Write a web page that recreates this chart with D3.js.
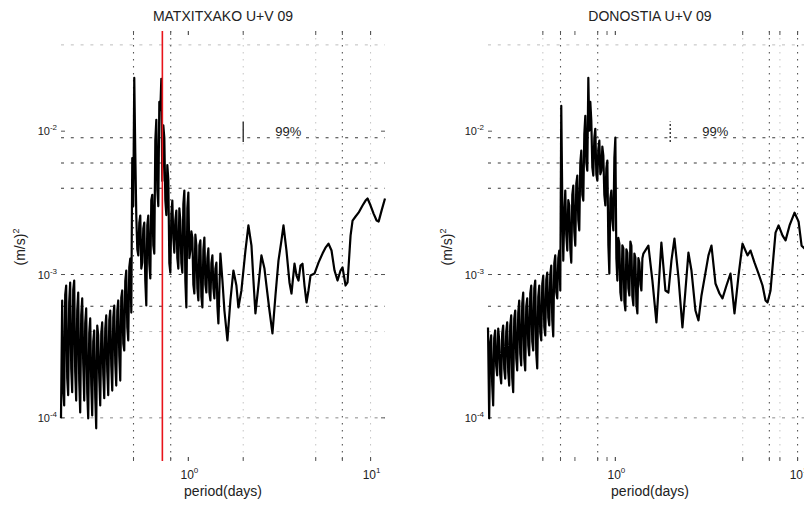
<!DOCTYPE html>
<html>
<head>
<meta charset="utf-8">
<script src="https://cdn.jsdelivr.net/npm/d3@7"></script>
<style>
  body { margin: 0; background: #fff; }
  svg { display: block; }
  text { font-family: "Liberation Sans", Arial, Helvetica, sans-serif; fill: #222; }
</style>
</head>
<body>
<svg id="chart" width="804" height="506"></svg>
<script>
// Power spectra of U+V currents, 2009: [period (days), power ((m/s)^2)]
const matxitxako = [
  [0.2,9.92e-5],[0.203,6.59e-4],[0.2056,1.6e-4],[0.2082,1.22e-4],[0.2109,7.2e-4],[0.2135,8.38e-4],
  [0.2163,1.9e-4],[0.219,1.44e-4],[0.2218,6.4e-4],[0.2246,8.80e-4],[0.2276,2.2e-4],[0.2304,1.51e-4],
  [0.2334,7.8e-4],[0.2363,9.08e-4],[0.2393,2.1e-4],[0.2423,1.32e-4],[0.2455,5.6e-4],[0.2486,7.49e-4],
  [0.2518,1.8e-4],[0.2549,1.09e-4],[0.2582,5.2e-4],[0.2615,6.81e-4],[0.2648,2.4e-4],[0.2682,1.32e-4],
  [0.2716,4.6e-4],[0.275,5.80e-4],[0.2786,1.5e-4],[0.2821,9.92e-5],[0.2858,3.9e-4],[0.2893,4.94e-4],
  [0.2931,1.7e-4],[0.2967,1.04e-4],[0.3006,3.4e-4],[0.3043,4.07e-4],[0.3083,1.4e-4],[0.3121,8.45e-5],
  [0.3162,4.4e-4],[0.3201,3.76e-4],[0.3243,1.9e-4],[0.3283,1.22e-4],[0.3327,3.9e-4],[0.3367,4.63e-4],
  [0.3412,2.0e-4],[0.3454,1.37e-4],[0.3499,4.2e-4],[0.3542,5.18e-4],[0.3589,2.1e-4],[0.3633,1.44e-4],
  [0.3681,4.8e-4],[0.3726,5.61e-4],[0.3775,2.3e-4],[0.3822,1.55e-4],[0.3872,5.0e-4],[0.392,6.08e-4],
  [0.3971,2.4e-4],[0.402,1.68e-4],[0.4073,5.6e-4],[0.4123,6.59e-4],[0.4177,2.7e-4],[0.4229,1.82e-4],
  [0.4284,6.9e-4],[0.4337,7.74e-4],[0.4394,3.3e-4],[0.4448,2.95e-4],[0.4506,9.0e-4],[0.4562,1.066e-3],
  [0.4622,4.3e-4],[0.4679,3.47e-4],[0.474,1.12e-3],[0.4799,1.29e-3],[0.4862,5.43e-4],[0.4922,6.5e-3],
  [0.4985,3.0e-3],[0.5048,2.36e-2],[0.5114,7.0e-3],[0.5178,2.58e-3],[0.5245,1.5e-3],[0.5311,1.36e-3],
  [0.5379,2.3e-3],[0.5447,2.58e-3],[0.5517,1.1e-3],[0.5586,1.21e-3],[0.5658,2.1e-3],[0.573,2.30e-3],
  [0.5803,9.0e-4],[0.5877,6.08e-4],[0.5951,2.2e-3],[0.6027,2.58e-3],[0.6104,1.2e-3],[0.6182,9.38e-4],
  [0.626,3.3e-3],[0.634,3.6e-3],[0.6421,1.6e-3],[0.6503,1.4e-3],[0.6586,8.6e-3],[0.667,1.2e-2],
  [0.6754,3.9e-3],[0.684,3.0e-3],[0.6929,1.6e-2],[0.7016,1.4e-2],[0.7106,2.32e-2],[0.7196,4.5e-3],
  [0.7287,1.1e-2],[0.738,9.0e-3],[0.7475,3.3e-3],[0.7569,2.6e-3],[0.7666,5.8e-3],[0.7763,4.6e-3],
  [0.7863,1.2e-3],[0.7963,1.03e-3],[0.8064,2.6e-3],[0.8167,3.28e-3],[0.8271,1.8e-3],[0.8376,1.42e-3],
  [0.8483,2.4e-3],[0.8591,2.79e-3],[0.87,1.3e-3],[0.8811,1.10e-3],[0.8924,2.9e-3],[0.9037,2.38e-3],
  [0.9153,1.2e-3],[0.9268,1.03e-3],[0.9387,3.1e-3],[0.9506,3.85e-3],[0.9627,9.0e-4],[0.975,5.89e-4],
  [0.9874,2.9e-3],[1.0,3.73e-3],[1.0127,1.3e-3],[1.0256,1.47e-3],[1.0387,2.0e-3],[1.0519,1.81e-3],
  [1.0653,8.5e-4],[1.0789,7.37e-4],[1.0926,1.9e-3],[1.1066,1.59e-3],[1.1206,8.0e-4],[1.1349,6.59e-4],
  [1.1494,1.6e-3],[1.164,1.73e-3],[1.1788,7.0e-4],[1.1938,5.89e-4],[1.209,1.5e-3],[1.2244,1.81e-3],
  [1.24,8.5e-4],[1.2558,7.49e-4],[1.2718,1.3e-3],[1.288,1.52e-3],[1.3044,7.5e-4],[1.321,6.59e-4],
  [1.3378,1.2e-3],[1.3549,1.36e-3],[1.3721,8.0e-4],[1.3896,6.81e-4],[1.4072,1.1e-3],[1.4252,1.21e-3],
  [1.4433,6.0e-4],[1.4617,4.56e-4],[1.499,1.40e-3],[1.538,9.08e-4],[1.577,5.61e-4],[1.638,3.47e-4],
  [1.701,6.59e-4],[1.767,1.066e-3],[1.835,8.38e-4],[1.882,5.89e-4],[1.955,7.74e-4],[2.057,1.47e-3],
  [2.136,2.20e-3],[2.22,1.59e-3],[2.276,9.08e-4],[2.334,5.35e-4],[2.424,8.38e-4],[2.518,1.36e-3],
  [2.616,1.10e-3],[2.683,8.38e-4],[2.787,5.61e-4],[2.894,3.88e-4],[3.006,7.14e-4],[3.123,1.25e-3],
  [3.243,1.73e-3],[3.327,2.20e-3],[3.455,1.47e-3],[3.589,8.80e-4],[3.681,7.37e-4],[3.824,1.19e-3],
  [3.922,9.84e-4],[4.022,9.08e-4],[4.125,1.155e-3],[4.23,1.19e-3],[4.339,8.38e-4],[4.45,6.38e-4],
  [4.563,7.74e-4],[4.681,9.84e-4],[4.923,1.016e-3],[5.179,1.21e-3],[5.448,1.40e-3],[5.658,1.54e-3],
  [5.878,1.64e-3],[6.105,1.47e-3],[6.341,1.066e-3],[6.587,9.08e-4],[6.842,1.066e-3],[7.017,1.12e-3],
  [7.29,8.38e-4],[7.476,8.80e-4],[7.766,1.87e-3],[7.965,2.38e-3],[8.273,2.54e-3],[8.593,2.70e-3],
  [9.036,3.03e-3],[9.387,3.28e-3],[9.627,3.39e-3],[10.0,3.03e-3],[10.39,2.66e-3],[10.79,2.38e-3],
  [11.07,2.34e-3],[11.49,2.79e-3],[12.0,3.39e-3]
];

const donostia = [
  [0.2,4.27e-4],[0.203,9.92e-5],[0.2056,3.3e-4],[0.2082,3.76e-4],[0.2109,1.7e-4],[0.2135,1.22e-4],
  [0.2163,3.6e-4],[0.219,4.07e-4],[0.2218,2.3e-4],[0.2246,1.98e-4],[0.2276,4.2e-4],[0.2304,3.47e-4],
  [0.2334,2.0e-4],[0.2363,1.74e-4],[0.2393,3.9e-4],[0.2423,4.41e-4],[0.2455,2.2e-4],[0.2486,1.88e-4],
  [0.2518,4.0e-4],[0.2549,4.63e-4],[0.2582,2.1e-4],[0.2615,1.68e-4],[0.2648,4.4e-4],[0.2682,5.18e-4],
  [0.2716,1.9e-4],[0.275,1.51e-4],[0.2786,4.9e-4],[0.2821,5.61e-4],[0.2858,2.6e-4],[0.2893,2.14e-4],
  [0.2931,5.4e-4],[0.2967,6.59e-4],[0.3006,2.8e-4],[0.3043,2.32e-4],[0.3083,6.3e-4],[0.3121,7.49e-4],
  [0.3162,2.6e-4],[0.3201,2.14e-4],[0.3243,6.0e-4],[0.3283,6.81e-4],[0.3327,3.2e-4],[0.3367,2.73e-4],
  [0.3412,7.4e-4],[0.3454,8.38e-4],[0.3499,3.4e-4],[0.3542,2.95e-4],[0.3589,8.0e-4],[0.3633,9.08e-4],
  [0.3681,2.8e-4],[0.3726,2.21e-4],[0.3775,7.0e-4],[0.3822,8.38e-4],[0.3872,3.9e-4],[0.392,3.47e-4],
  [0.3971,8.6e-4],[0.402,9.84e-4],[0.4073,4.3e-4],[0.4123,3.76e-4],[0.4177,9.2e-4],[0.4229,1.03e-3],
  [0.4284,5.0e-4],[0.4337,4.41e-4],[0.4394,1.0e-3],[0.4448,1.155e-3],[0.4506,4.8e-4],[0.4562,3.70e-4],
  [0.4622,1.2e-3],[0.4679,1.36e-3],[0.474,7.5e-4],[0.4799,6.81e-4],[0.4862,1.3e-3],[0.4922,1.47e-3],
  [0.4985,7.74e-4],[0.5048,1.505e-2],[0.5114,3.28e-3],[0.5178,1.25e-3],[0.5245,2.6e-3],[0.5311,3.85e-3],
  [0.5379,1.9e-3],[0.5447,1.47e-3],[0.5517,3.3e-3],[0.5586,3.03e-3],[0.5658,1.5e-3],[0.573,1.21e-3],
  [0.5803,3.6e-3],[0.5877,4.17e-3],[0.5951,2.0e-3],[0.6027,1.59e-3],[0.6104,4.3e-3],[0.6182,4.90e-3],
  [0.626,2.4e-3],[0.634,2.03e-3],[0.6421,6.0e-3],[0.6503,7.31e-3],[0.6586,3.6e-3],[0.667,3.28e-3],
  [0.6754,9.5e-3],[0.684,1.28e-2],[0.6929,6.0e-3],[0.7016,5.30e-3],[0.7106,2.36e-2],[0.7196,1.008e-2],
  [0.7287,1.6e-2],[0.738,1.18e-2],[0.7475,5.6e-3],[0.7569,4.90e-3],[0.7666,9.0e-3],[0.7763,1.04e-2],
  [0.7863,5.0e-3],[0.7963,4.52e-3],[0.8064,7.5e-3],[0.8167,8.59e-3],[0.8271,5.0e-3],[0.8376,5.30e-3],
  [0.8483,7.8e-3],[0.8591,6.75e-3],[0.87,3.6e-3],[0.8811,3.03e-3],[0.8924,5.5e-3],[0.9037,6.23e-3],
  [0.9153,1.6e-3],[0.9268,1.016e-3],[0.9387,3.4e-3],[0.9506,3.85e-3],[0.9627,2.4e-3],[0.975,2.03e-3],
  [0.9874,6.5e-3],[1.0,9.01e-3],[1.0127,1.3e-3],[1.0256,9.08e-4],[1.0387,1.8e-3],[1.0519,1.64e-3],
  [1.0653,7.5e-4],[1.0789,6.59e-4],[1.0926,1.6e-3],[1.1066,1.52e-3],[1.1206,6.5e-4],[1.1349,5.61e-4],
  [1.1494,1.5e-3],[1.164,1.42e-3],[1.1788,8.0e-4],[1.1938,7.14e-4],[1.209,1.7e-3],[1.2244,1.59e-3],
  [1.24,7.0e-4],[1.2558,6.08e-4],[1.2718,1.4e-3],[1.288,1.31e-3],[1.3044,6.2e-4],[1.321,5.35e-4],
  [1.3378,1.3e-3],[1.3549,1.21e-3],[1.3721,8.5e-4],[1.3896,7.74e-4],[1.4072,1.3e-3],[1.4252,1.40e-3],
  [1.518,1.59e-3],[1.597,9.08e-4],[1.68,4.63e-4],[1.789,1.67e-3],[1.882,7.74e-4],[1.955,7.49e-4],
  [2.031,1.25e-3],[2.11,1.78e-3],[2.22,9.53e-4],[2.334,4.27e-4],[2.424,7.74e-4],[2.518,1.42e-3],
  [2.616,1.066e-3],[2.751,5.61e-4],[2.858,4.78e-4],[2.969,7.14e-4],[3.123,1.03e-3],[3.243,1.36e-3],
  [3.369,1.59e-3],[3.543,8.66e-4],[3.727,7.37e-4],[3.872,6.81e-4],[4.072,8.38e-4],[4.284,1.016e-3],
  [4.506,5.35e-4],[4.741,9.84e-4],[4.987,1.64e-3],[5.313,1.36e-3],[5.518,1.47e-3],[5.804,1.21e-3],
  [6.105,1.016e-3],[6.422,8.38e-4],[6.671,6.59e-4],[6.842,6.38e-4],[7.106,7.74e-4],[7.381,1.36e-3],
  [7.57,1.96e-3],[7.865,2.20e-3],[8.273,1.87e-3],[8.593,1.73e-3],[9.036,2.20e-3],[9.627,2.70e-3],
  [10.13,2.34e-3],[10.52,1.59e-3],[11.21,1.47e-3],[12.0,1.59e-3]
];

// Inertial period at Matxitxako (days)
const inertialPeriod = 0.72;

// 99% confidence bar: period, lower and upper power
const confPeriod = 2.0;
const confRange = [8.4e-3, 1.17e-2];
const confLabel = "99%";
const confLabelPeriod = 3.0;

// Axes
const periodDomain = [0.2, 12];
const powerDomain = [5e-5, 5e-2];
const xTickValues = [1, 10];
const xTickExps = ["0", "1"];
const yTickValues = [1e-2, 1e-3, 1e-4];
const yTickExps = ["-2", "-3", "-4"];

// Grid lines that show up strongly / faintly
const yGridStrong = [9e-3, 6e-3, 4e-3, 1e-3, 6e-4];
const yGridFaint = [4e-2, 4e-4];
const yGridMid = [1e-4];
const matxGridStrong = [0.5, 0.8, 7];
const matxGridFaint = [2, 5, 10];
const donoGridStrong = [0.5, 0.8, 7, 10];
const donoGridFaint = [0.4, 5, 8];
const donoTickOnly = [0.6, 0.9, 1];

const panels = [
  { title: "MATXITXAKO U+V 09", data: matxitxako, left: 61, strong: matxGridStrong, faint: matxGridFaint,
    tickOnly: [1], marker: inertialPeriod, dashedBar: false },
  { title: "DONOSTIA U+V 09", data: donostia, left: 488, strong: donoGridStrong, faint: donoGridFaint,
    tickOnly: donoTickOnly, marker: null, dashedBar: true }
];

const plotW = 324, plotTop = 31, plotBottom = 461;
const svg = d3.select("#chart");

panels.forEach(p => {
  const x = d3.scaleLog().domain(periodDomain).range([p.left, p.left + plotW]);
  const y = d3.scaleLog().domain(powerDomain).range([plotBottom, plotTop]);
  const g = svg.append("g");

  // horizontal grid
  const hgrid = (vals, color, w) => g.selectAll(null).data(vals).enter().append("line")
    .attr("x1", p.left).attr("x2", p.left + plotW)
    .attr("y1", d => y(d)).attr("y2", d => y(d))
    .attr("stroke", color).attr("stroke-width", w).attr("stroke-dasharray", "3,6.8");
  hgrid(yGridStrong, "#3a3a3a", 1.1);
  hgrid(yGridMid, "#8a8a8a", 1);
  hgrid(yGridFaint, "#bdbdbd", 1);

  // vertical grid
  const vgrid = (vals, color, w) => g.selectAll(null).data(vals).enter().append("line")
    .attr("x1", d => x(d)).attr("x2", d => x(d))
    .attr("y1", plotTop).attr("y2", plotBottom)
    .attr("stroke", color).attr("stroke-width", w).attr("stroke-dasharray", "1.5,5.5");
  vgrid(p.strong, "#555", 1.1);
  vgrid(p.faint, "#c4c4c4", 1);

  // tick marks along top and bottom
  const xt = [...xTickValues, ...p.strong, ...p.faint, ...p.tickOnly];
  g.selectAll(null).data(xt).enter().append("line")
    .attr("x1", d => x(d)).attr("x2", d => x(d)).attr("y1", plotTop).attr("y2", plotTop + 4)
    .attr("stroke", "#555").attr("stroke-width", 1);
  g.selectAll(null).data(xt).enter().append("line")
    .attr("x1", d => x(d)).attr("x2", d => x(d)).attr("y1", plotBottom - 4).attr("y2", plotBottom)
    .attr("stroke", "#555").attr("stroke-width", 1);

  // tick marks along left and right
  g.selectAll(null).data(yTickValues).enter().append("line")
    .attr("x1", p.left).attr("x2", p.left + 4).attr("y1", d => y(d)).attr("y2", d => y(d))
    .attr("stroke", "#555");
  g.selectAll(null).data(yTickValues).enter().append("line")
    .attr("x1", p.left + plotW - 4).attr("x2", p.left + plotW).attr("y1", d => y(d)).attr("y2", d => y(d))
    .attr("stroke", "#555");

  // spectrum
  const line = d3.line().x(d => x(d[0])).y(d => y(d[1]));
  g.append("path").datum(p.data)
    .attr("d", line).attr("fill", "none")
    .attr("stroke", "#000").attr("stroke-width", 2.2).attr("stroke-linejoin", "round");

  // inertial period marker
  if (p.marker) {
    g.append("line")
      .attr("x1", x(p.marker)).attr("x2", x(p.marker)).attr("y1", plotTop).attr("y2", plotBottom)
      .attr("stroke", "#e8141b").attr("stroke-width", 1.6);
  }

  // confidence bar
  g.append("line")
    .attr("x1", x(confPeriod)).attr("x2", x(confPeriod))
    .attr("y1", y(confRange[0])).attr("y2", y(confRange[1]))
    .attr("stroke", "#222").attr("stroke-width", 1.3)
    .attr("stroke-dasharray", p.dashedBar ? "2,2" : null);
  g.append("text")
    .attr("x", x(confLabelPeriod)).attr("y", y(1e-2) + 5)
    .attr("font-size", 13).text(confLabel);

  // y tick labels
  yTickValues.forEach((v, i) => {
    const t = g.append("text").attr("x", p.left - 4).attr("y", y(v) + 4)
      .attr("text-anchor", "end").attr("font-size", 11);
    t.append("tspan").text("10");
    t.append("tspan").attr("dy", -5).attr("font-size", 8).text(yTickExps[i]);
  });

  // x tick labels
  xTickValues.forEach((v, i) => {
    const t = g.append("text").attr("x", x(v) + 1).attr("y", 479)
      .attr("text-anchor", "middle").attr("font-size", 12);
    t.append("tspan").text("10");
    t.append("tspan").attr("dy", -6).attr("font-size", 8).text(xTickExps[i]);
  });

  // title and axis labels
  g.append("text").attr("x", p.left + plotW / 2).attr("y", 21)
    .attr("text-anchor", "middle").attr("font-size", 14).text(p.title);
  g.append("text").attr("x", p.left + plotW / 2).attr("y", 496)
    .attr("text-anchor", "middle").attr("font-size", 14).text("period(days)");
  const yl = g.append("text")
    .attr("transform", `translate(${p.left - 36},${247}) rotate(-90)`)
    .attr("text-anchor", "middle").attr("font-size", 14);
  yl.append("tspan").text("(m/s)");
  yl.append("tspan").attr("dy", -6).attr("font-size", 9).text("2");
});
</script>
</body>
</html>
